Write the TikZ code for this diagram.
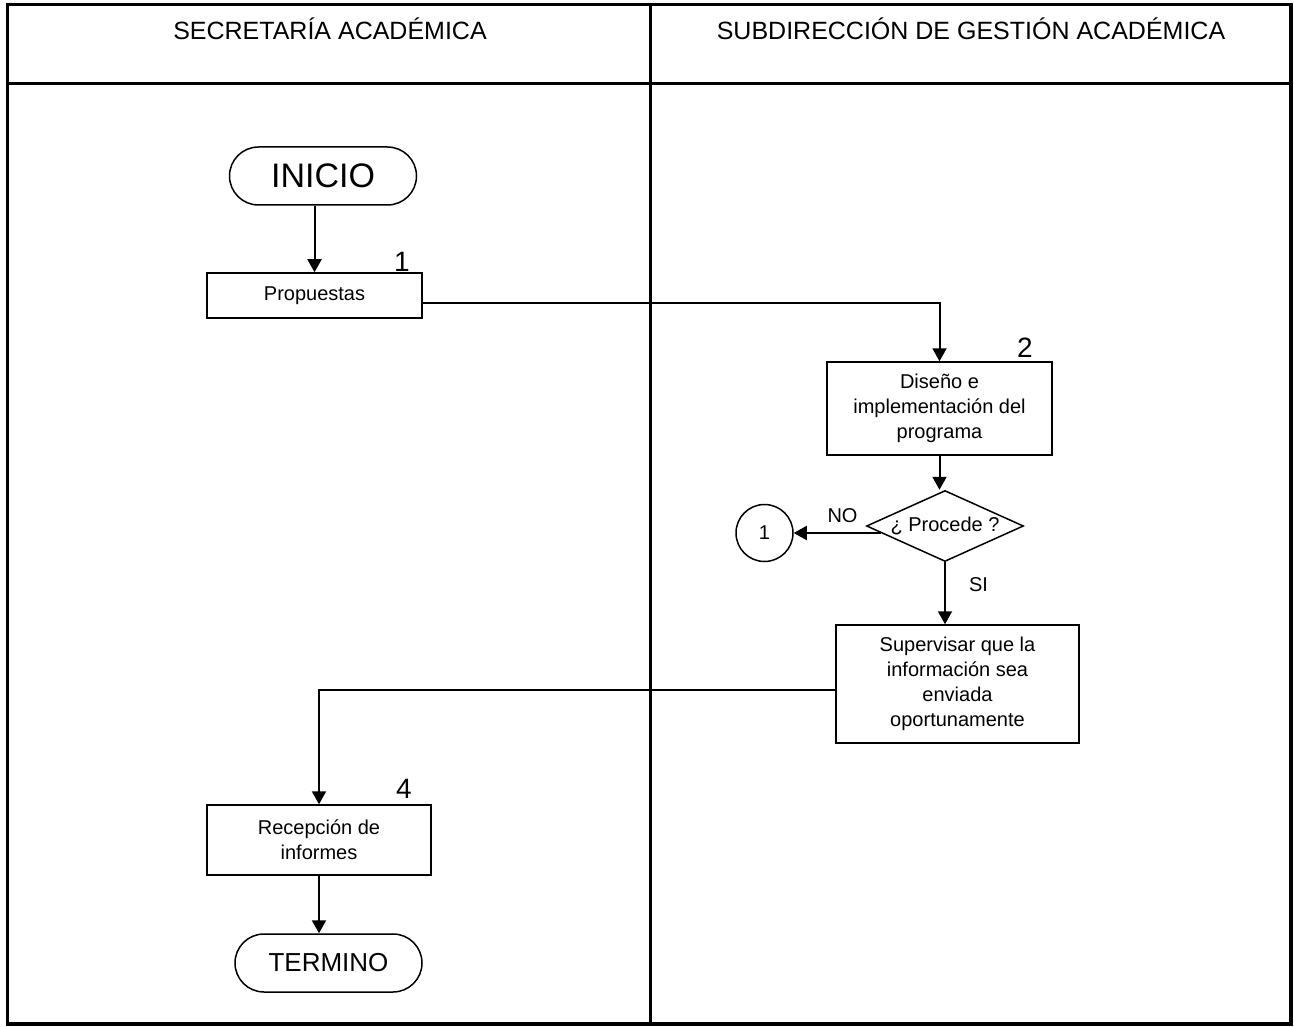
\documentclass[tikz,border=0pt]{standalone}
\usepackage{fontspec}
\setmainfont{Liberation Sans}
\usetikzlibrary{shapes.geometric,shapes.misc,arrows.meta}

\tikzset{
  caja/.style={draw,line width=1.5pt,align=center,inner sep=0pt,font=\fontsize{20}{25}\selectfont},
  ovalo/.style={draw,line width=1.5pt,rounded rectangle,minimum width=187pt,minimum height=58pt,inner sep=0pt},
  flecha/.style={line width=2pt,-{Triangle[length=13pt,width=14pt]}},
  numero/.style={font=\fontsize{28}{28}\selectfont},
  rotulo/.style={font=\fontsize{20}{20}\selectfont}
}

\begin{document}
\begin{tikzpicture}[x=1pt,y=-1pt]
    \useasboundingbox (0,0) rectangle (1294,1027);
    \draw[line width=3.5pt] (7.5,4.5) rectangle (1291,1024);
    \draw[line width=3pt] (7.5,84) -- (1291,84);
    \draw[line width=3pt] (650.5,4.5) -- (650.5,1024);
    \node[anchor=base,font=\fontsize{25}{30}\selectfont] (sec) at (330,40) {SECRETARÍA ACADÉMICA};
    \node[anchor=base,font=\fontsize{25}{30}\selectfont] (sub) at (971,40) {SUBDIRECCIÓN DE GESTIÓN ACADÉMICA};
    \node[ovalo,font=\fontsize{34}{34}\selectfont] (ini) at (323,176) {INICIO};
    \node[caja,minimum width=215pt,minimum height=45pt] (prop) at (314.5,295.5) {Propuestas};
    \node[caja,minimum width=225pt,minimum height=93pt] (dis) at (939.5,408.5) {Diseño e\\implementación del\\programa};
    \node[draw,diamond,line width=1.5pt,aspect=2.2,minimum width=157pt,minimum height=71pt,inner sep=0pt,rotulo] (dec) at (945,526) {¿ Procede ?};
    \node[draw,circle,line width=1.5pt,minimum size=57pt,inner sep=0pt,rotulo] (c1) at (764.5,533) {1};
    \node[caja,minimum width=243pt,minimum height=118pt] (superv) at (957.5,684) {Supervisar que la\\información sea\\enviada\\oportunamente};
    \node[caja,minimum width=224pt,minimum height=70pt] (rec) at (319,840) {Recepción de\\informes};
    \node[ovalo,font=\fontsize{26}{26}\selectfont] (fin) at (328.5,963) {TERMINO};
    \node[numero] (n1) at (402,262) {1};
    \node[numero] (n2) at (1025,347.5) {2};
    \node[numero] (n4) at (404,789) {4};
    \node[rotulo] (no) at (842.5,515.5) {NO};
    \node[rotulo] (si) at (978.5,584.5) {SI};
    \draw[flecha] (prop.north |- ini.south) -- (prop.north);
    \draw[flecha] ([yshift=-8pt]prop.east) -| (dis.north);
    \draw[flecha] (dis.south) -- (dis.south |- dec.north);
    \draw[flecha] ([shift={(15,7)}]dec.west) -- (c1.east);
    \draw[flecha] (dec.south) -- (dec.south |- superv.north);
    \draw[flecha] ([yshift=-6pt]superv.west) -| (rec.north);
    \draw[flecha] (rec.south) -- (rec.south |- fin.north);
\end{tikzpicture}
\end{document}
